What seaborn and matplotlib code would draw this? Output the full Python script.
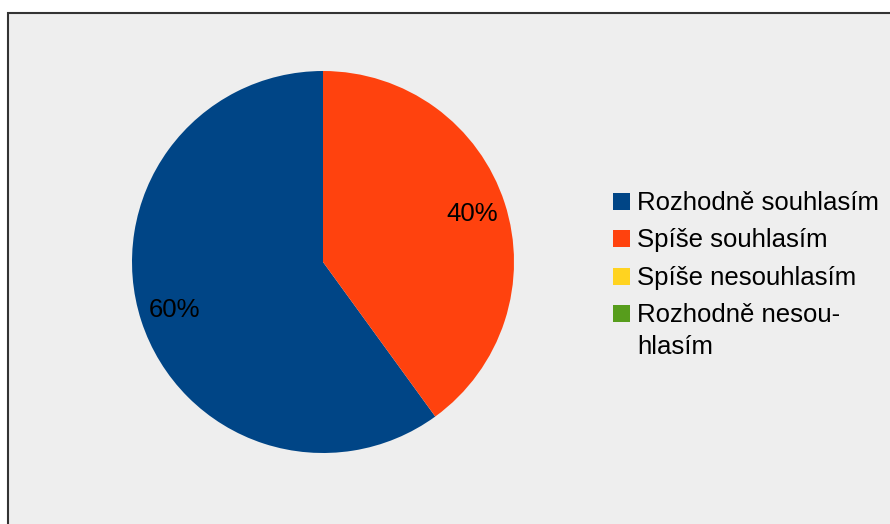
import matplotlib
matplotlib.use("Agg")
import matplotlib.pyplot as plt
from matplotlib.patches import Rectangle
import seaborn as sns

# Survey answers and their shares (percent)
categories = ["Rozhodně souhlasím", "Spíše souhlasím", "Spíše nesouhlasím", "Rozhodně nesouhlasím"]
legend_labels = ["Rozhodně souhlasím", "Spíše souhlasím", "Spíše nesouhlasím", "Rozhodně nesou-\nhlasím"]
shares = [60, 40, 0, 0]
colors = ["#004586", "#ff420e", "#ffd320", "#579d1c"]

sns.set_theme(style="white")
plt.rcParams["font.family"] = ["Liberation Sans", "DejaVu Sans"]

W, H = 890, 524
FS = 18.5
fig = plt.figure(figsize=(W / 100, H / 100), dpi=100)
fig.patch.set_facecolor("white")

# chart area background with a dark frame
fig.patches.append(Rectangle((8 / W, -0.1), 1.2, 1 - 13 / H + 0.1,
                             transform=fig.transFigure, facecolor="#eeeeee",
                             edgecolor="#333333", linewidth=1.5, zorder=-10))

cx, cy, r = 323, 262, 191
ax = fig.add_axes([(cx - r) / W, (H - cy - r) / H, 2 * r / W, 2 * r / H])
ax.set_facecolor("none")
ax.set_zorder(5)

palette = sns.color_palette(colors)


def pct(v):
    return f"{v:.0f}%" if v > 0.5 else ""


wedges, _texts, autotexts = ax.pie(
    shares, colors=palette, startangle=90, counterclock=True,
    autopct=pct, pctdistance=0.82, radius=1,
    wedgeprops=dict(linewidth=0),
    textprops=dict(fontsize=FS, color="black"),
)
ax.set_xlim(-1, 1)
ax.set_ylim(-1, 1)
ax.set_aspect("equal")
ax.axis("off")

# legend: colour squares with labels, one row per answer
key_x, text_x, row0, step, key, line_step = 613, 637, 201, 37.5, 17, 32
for i, (label, col) in enumerate(zip(legend_labels, palette)):
    yc = row0 + step * i
    fig.patches.append(Rectangle((key_x / W, 1 - (yc + key / 2) / H), key / W, key / H,
                                 transform=fig.transFigure, facecolor=col,
                                 edgecolor="none", zorder=6))
    for j, line in enumerate(label.split("\n")):
        fig.text(text_x / W, 1 - (yc + 8.5 + line_step * j) / H, line,
                 fontsize=FS, color="black", ha="left", va="baseline", zorder=6)

fig.savefig("out.png", dpi=100, facecolor=fig.get_facecolor())
